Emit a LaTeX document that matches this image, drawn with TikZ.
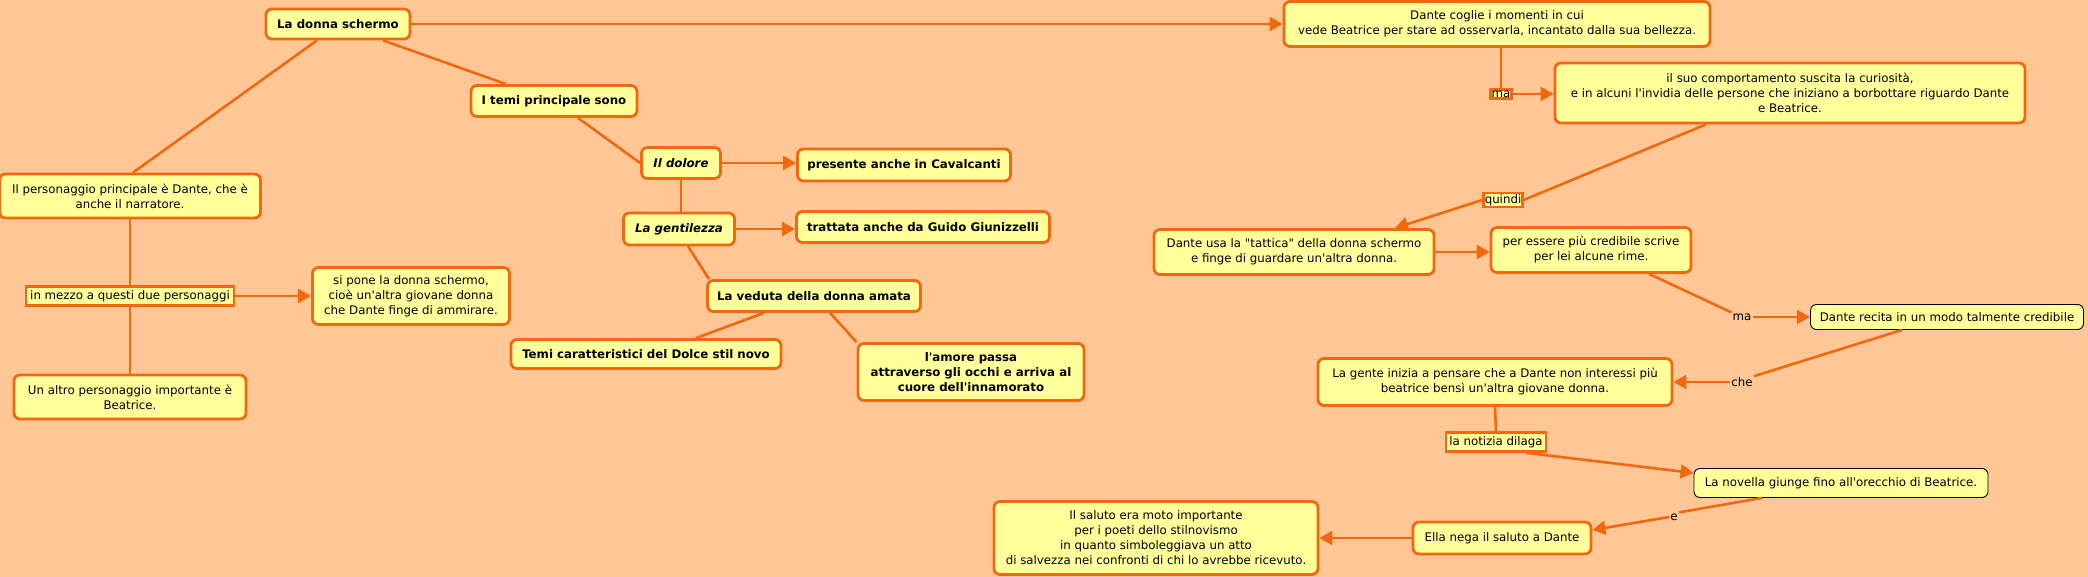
\documentclass[tikz,border=0pt]{standalone}
\usepackage{fontspec}
\setmainfont{DejaVu Sans}[Ligatures=TeXOff]
\usetikzlibrary{arrows.meta}
\definecolor{bgcol}{RGB}{255,199,150}
\definecolor{boxfill}{RGB}{255,255,156}
\definecolor{ocol}{RGB}{242,104,14}
\tikzset{
  concept/.style={draw=ocol, line width=2.8pt, fill=boxfill, rounded corners=6pt, align=center, inner sep=2pt, font=\fontsize{11.8}{15}\selectfont},
  thinbox/.style={draw=black, line width=0.9pt, fill=boxfill, rounded corners=6pt, align=center, inner sep=2pt, font=\fontsize{11.8}{15}\selectfont},
  linkbox/.style={draw=ocol, line width=2.6pt, fill=boxfill, inner sep=1.2pt, font=\fontsize{11.8}{13}\selectfont},
  linkplain/.style={inner sep=1pt, font=\fontsize{11.8}{13}\selectfont},
  conn/.style={draw=ocol, line width=2.6pt},
  arr/.style={conn, -{Triangle[length=13pt,width=14pt]}},
}
\begin{document}
\begin{tikzpicture}[x=1pt,y=-1pt]
\useasboundingbox[fill=bgcol] (0,0) rectangle (2088,577);
% left part
\node[concept, minimum width=144pt, minimum height=30pt] (A) at (338,24) {\bfseries La donna schermo};
\node[concept, minimum width=166pt, minimum height=31pt] (B) at (554,101) {\bfseries I temi principale sono};
\node[concept, minimum width=261pt, minimum height=44pt] (C) at (130,196) {Il personaggio principale è Dante, che è\\anche il narratore.};
\node[linkbox, minimum width=208pt, minimum height=19pt] (D) at (130,296) {in mezzo a questi due personaggi};
\node[concept, minimum width=197pt, minimum height=57pt] (E) at (411,296) {si pone la donna schermo,\\cioè un'altra giovane donna\\che Dante finge di ammirare.};
\node[concept, minimum width=232pt, minimum height=44pt] (F) at (130,397) {Un altro personaggio importante è\\Beatrice.};
\node[concept, minimum width=79pt, minimum height=31pt] (G) at (681,163) {\bfseries\itshape Il dolore};
\node[concept, minimum width=213pt, minimum height=32pt] (H) at (904,165) {\bfseries presente anche in Cavalcanti};
\node[concept, minimum width=111pt, minimum height=32pt] (I) at (679,229) {\bfseries\itshape La gentilezza};
\node[concept, minimum width=253pt, minimum height=31pt] (J) at (923,227) {\bfseries trattata anche da Guido Giunizzelli};
\node[concept, minimum width=213pt, minimum height=31pt] (K) at (814,296) {\bfseries La veduta della donna amata};
\node[concept, minimum width=270pt, minimum height=29pt] (L) at (646,354) {\bfseries Temi caratteristici del Dolce stil novo};
\node[concept, minimum width=226pt, minimum height=57pt] (M) at (971,372) {\bfseries l'amore passa\\\bfseries attraverso gli occhi e arriva al\\\bfseries cuore dell'innamorato};
% right part
\node[concept, minimum width=426pt, minimum height=45pt] (N) at (1497,24) {Dante coglie i momenti in cui\\vede Beatrice per stare ad osservarla, incantato dalla sua bellezza.};
\node[concept, minimum width=470pt, minimum height=60pt] (O) at (1790,93) {il suo comportamento suscita la curiosità,\\e in alcuni l'invidia delle persone che iniziano a borbottare riguardo Dante\\e Beatrice.};
\node[linkbox] (P) at (1501,94) {ma};
\node[linkbox] (Q) at (1503,200) {quindi};
\node[concept, minimum width=280pt, minimum height=45pt] (R) at (1294,252) {Dante usa la "tattica" della donna schermo\\e finge di guardare un'altra donna.};
\node[concept, minimum width=200pt, minimum height=45pt] (S) at (1591,250) {per essere più credibile scrive\\per lei alcune rime.};
\node[linkplain] (T) at (1742,317) {ma};
\node[thinbox, minimum width=273pt, minimum height=25pt, inner sep=1pt] (U) at (1947,317) {Dante recita in un modo talmente credibile};
\node[concept, minimum width=354pt, minimum height=47pt] (V) at (1495,382) {La gente inizia a pensare che a Dante non interessi più\\beatrice bensì un'altra giovane donna.};
\node[linkplain] (W) at (1742,382) {che};
\node[linkbox, minimum width=100pt, minimum height=19pt] (X) at (1496,442) {la notizia dilaga};
\node[thinbox, minimum width=294pt, minimum height=29pt] (Y) at (1841,483) {La novella giunge fino all'orecchio di Beatrice.};
\node[linkplain] (Z) at (1674,517) {e};
\node[concept, minimum width=178pt, minimum height=32pt] (AA) at (1502,538) {Ella nega il saluto a Dante};
\node[concept, minimum width=324pt, minimum height=73pt] (AB) at (1156,538) {Il saluto era moto importante\\per i poeti dello stilnovismo\\in quanto simboleggiava un atto\\di salvezza nei confronti di chi lo avrebbe ricevuto.};
% connectors left
\draw[conn] ([xshift=-21pt]A.south) -- ([xshift=3pt]C.north);
\draw[conn] ([xshift=45pt]A.south) -- ([xshift=-48pt]B.north);
\draw[arr] (A.east) -- (A.east -| N.west);
\draw[conn] (C.south) -- (D.north);
\draw[conn] (D.south) -- (F.north);
\draw[arr] (D.east) -- (D.east -| E.west);
\draw[conn] ([xshift=24pt]B.south) -- (G.west);
\draw[arr] (G.east) -- (G.east -| H.west);
\draw[conn] (G.south) -- (G.south |- I.north);
\draw[arr] (I.east) -- (I.east -| J.west);
\draw[conn] ([xshift=9pt]I.south) -- ([xshift=3pt]K.north west);
\draw[conn] ([xshift=-50pt]K.south) -- ([xshift=50pt]L.north);
\draw[conn] ([xshift=16pt]K.south) -- (M.north west);
% connectors right
\draw[conn] ([xshift=4pt]N.south) -- (P.north);
\draw[arr] (P.east) -- (P.east -| O.west);
\draw[conn] ([xshift=-84pt]O.south) -- (Q.east);
\draw[arr] (Q.west) -- ([xshift=101pt]R.north);
\draw[arr] (R.east) -- (R.east -| S.west);
\draw[conn] ([xshift=58pt]S.south) -- (T.north west);
\draw[arr] (T.east) -- (U.west);
\draw[conn] ([xshift=-45pt]U.south) -- (W.north east);
\draw[arr] (W.west) -- (W.west -| V.east);
\draw[conn] (V.south) -- (X.north);
\draw[arr] ([xshift=30pt]X.south) -- ([yshift=10pt]Y.west);
\draw[conn] ([xshift=-79pt]Y.south) -- (Z.north east);
\draw[arr] (Z.west) -- ([yshift=8pt]AA.east);
\draw[arr] (AA.west) -- (AA.west -| AB.east);
\end{tikzpicture}
\end{document}
